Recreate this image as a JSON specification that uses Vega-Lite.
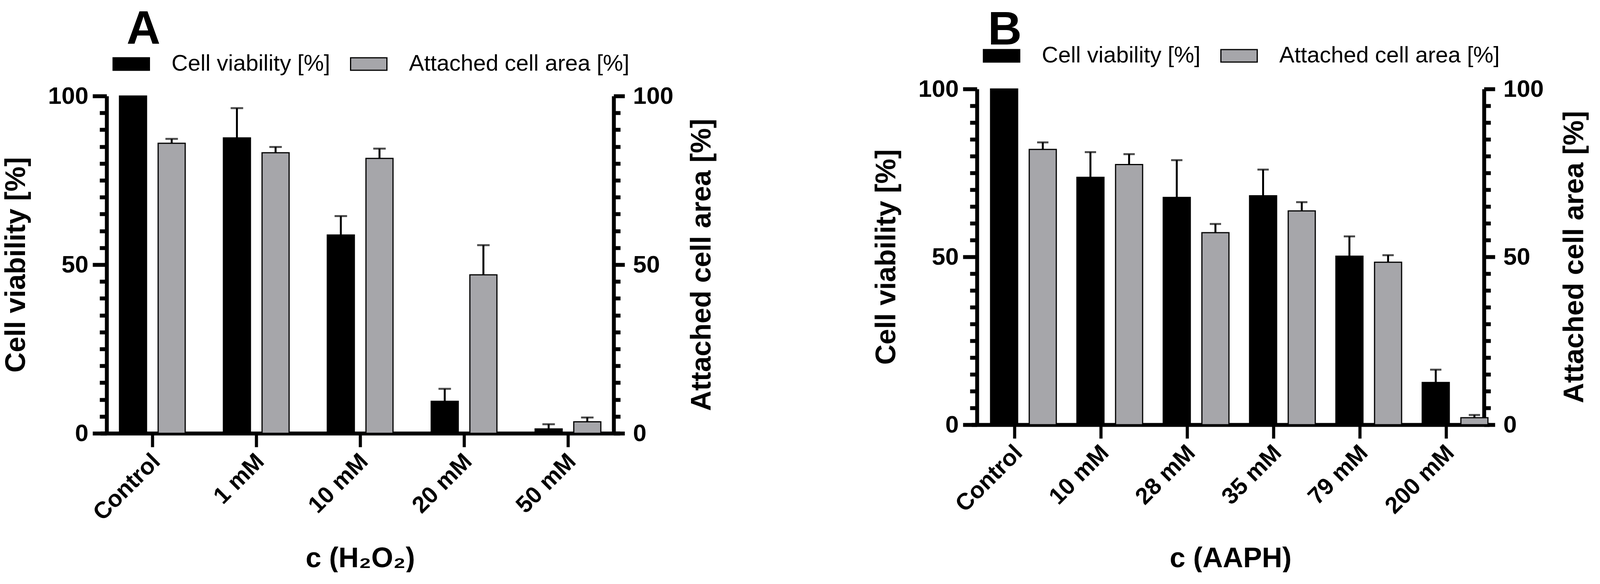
{
  "$schema": "https://vega.github.io/schema/vega-lite/v6.json",
  "background": "white",
  "padding": {"left": 5, "top": 16, "right": 0, "bottom": 0},
  "spacing": 400,
  "resolve": {"scale": {"color": "independent"}, "legend": {"color": "independent"}},
  "hconcat": [
    {
      "width": 1298,
      "height": 864,
      "title": {"text": "A", "anchor": "start", "frame": "group", "dx": 51, "offset": -21},
      "data": {
        "values": [
          {"conc": "Control", "series": "Cell viability [%]", "mean": 100, "upper": 100},
          {"conc": "Control", "series": "Attached cell area [%]", "mean": 86.0, "upper": 87.3},
          {"conc": "1 mM", "series": "Cell viability [%]", "mean": 87.6, "upper": 96.4},
          {"conc": "1 mM", "series": "Attached cell area [%]", "mean": 83.2, "upper": 84.9},
          {"conc": "10 mM", "series": "Cell viability [%]", "mean": 58.8, "upper": 64.4},
          {"conc": "10 mM", "series": "Attached cell area [%]", "mean": 81.5, "upper": 84.4},
          {"conc": "20 mM", "series": "Cell viability [%]", "mean": 9.5, "upper": 13.2},
          {"conc": "20 mM", "series": "Attached cell area [%]", "mean": 47.0, "upper": 55.8},
          {"conc": "50 mM", "series": "Cell viability [%]", "mean": 1.3, "upper": 2.7},
          {"conc": "50 mM", "series": "Attached cell area [%]", "mean": 3.4, "upper": 4.7}
        ]
      },
      "encoding": {
        "x": {
          "field": "conc", "type": "nominal", "sort": null,
          "scale": {"paddingInner": 0, "paddingOuter": 0, "range": [-16, 1314]},
          "axis": {"title": "c (H₂O₂)", "titlePadding": 85}
        },
        "xOffset": {
          "field": "series", "type": "nominal",
          "scale": {"domain": ["Cell viability [%]", "Attached cell area [%]"], "paddingInner": 0.3, "paddingOuter": 0.494}
        }
      },
      "layer": [
        {
          "transform": [{"filter": "datum.series == 'Cell viability [%]'"}],
          "encoding": {
            "y": {
              "field": "mean", "type": "quantitative",
              "scale": {"domain": [0, 100], "nice": false},
              "axis": {"orient": "left", "title": "Cell viability [%]"}
            }
          },
          "layer": [
            {
              "mark": {"type": "bar", "stroke": "black", "strokeWidth": 3},
              "encoding": {
                "color": {
                  "field": "series", "type": "nominal",
                  "scale": {"domain": ["Cell viability [%]", "Attached cell area [%]"], "range": ["#000000", "#a6a6aa"]},
                  "legend": {"legendX": 15, "legendY": -130}
                }
              }
            },
            {
              "transform": [{"filter": "datum.upper > datum.mean"}],
              "mark": {"type": "rule", "color": "black", "strokeWidth": 5},
              "encoding": {"y2": {"field": "upper"}}
            },
            {
              "transform": [{"filter": "datum.upper > datum.mean"}],
              "mark": {"type": "tick", "color": "black", "thickness": 5, "size": 32, "orient": "horizontal"},
              "encoding": {"y": {"field": "upper", "type": "quantitative"}}
            }
          ]
        },
        {
          "transform": [{"filter": "datum.series == 'Attached cell area [%]'"}],
          "encoding": {
            "y": {
              "field": "mean", "type": "quantitative",
              "scale": {"domain": [0, 100], "nice": false},
              "axis": {
                "orient": "right", "title": "Attached cell area [%]", "titleAngle": 270, "titleBaseline": "top",
                "titlePadding": 38, "labelPadding": 21,
                "tickSize": {"condition": {"test": "datum.value % 50 != 0", "value": 17}, "value": 28}
              }
            }
          },
          "layer": [
            {
              "mark": {"type": "bar", "stroke": "black", "strokeWidth": 3},
              "encoding": {
                "color": {
                  "field": "series", "type": "nominal",
                  "scale": {"domain": ["Cell viability [%]", "Attached cell area [%]"], "range": ["#000000", "#a6a6aa"]},
                  "legend": {"legendX": 15, "legendY": -130}
                }
              }
            },
            {
              "transform": [{"filter": "datum.upper > datum.mean"}],
              "mark": {"type": "rule", "color": "black", "strokeWidth": 5},
              "encoding": {"y2": {"field": "upper"}}
            },
            {
              "transform": [{"filter": "datum.upper > datum.mean"}],
              "mark": {"type": "tick", "color": "black", "thickness": 5, "size": 32, "orient": "horizontal"},
              "encoding": {"y": {"field": "upper", "type": "quantitative"}}
            }
          ]
        }
      ],
      "resolve": {"scale": {"y": "independent"}}
    },
    {
      "width": 1298,
      "height": 864,
      "title": {"text": "B", "anchor": "start", "frame": "group", "dx": 28, "offset": -44},
      "data": {
        "values": [
          {"conc": "Control", "series": "Cell viability [%]", "mean": 100, "upper": 100},
          {"conc": "Control", "series": "Attached cell area [%]", "mean": 82.0, "upper": 84.1},
          {"conc": "10 mM", "series": "Cell viability [%]", "mean": 73.7, "upper": 81.2},
          {"conc": "10 mM", "series": "Attached cell area [%]", "mean": 77.5, "upper": 80.6},
          {"conc": "28 mM", "series": "Cell viability [%]", "mean": 67.7, "upper": 78.8},
          {"conc": "28 mM", "series": "Attached cell area [%]", "mean": 57.2, "upper": 59.8},
          {"conc": "35 mM", "series": "Cell viability [%]", "mean": 68.2, "upper": 76.0},
          {"conc": "35 mM", "series": "Attached cell area [%]", "mean": 63.7, "upper": 66.3},
          {"conc": "79 mM", "series": "Cell viability [%]", "mean": 50.2, "upper": 56.1},
          {"conc": "79 mM", "series": "Attached cell area [%]", "mean": 48.4, "upper": 50.5},
          {"conc": "200 mM", "series": "Cell viability [%]", "mean": 12.6, "upper": 16.4},
          {"conc": "200 mM", "series": "Attached cell area [%]", "mean": 2.1, "upper": 2.9}
        ]
      },
      "encoding": {
        "x": {
          "field": "conc", "type": "nominal", "sort": null,
          "scale": {"paddingInner": 0, "paddingOuter": 0, "range": [-14, 1312]},
          "axis": {"title": "c (AAPH)", "offset": -22, "titlePadding": 107}
        },
        "xOffset": {
          "field": "series", "type": "nominal",
          "scale": {"domain": ["Cell viability [%]", "Attached cell area [%]"], "paddingInner": 0.3, "paddingOuter": 0.494}
        }
      },
      "layer": [
        {
          "transform": [{"filter": "datum.series == 'Cell viability [%]'"}],
          "encoding": {
            "y": {
              "field": "mean", "type": "quantitative",
              "scale": {"domain": [0, 100], "nice": false, "range": [842, -18]},
              "axis": {"orient": "left", "title": "Cell viability [%]"}
            }
          },
          "layer": [
            {
              "mark": {"type": "bar", "stroke": "black", "strokeWidth": 3},
              "encoding": {
                "color": {
                  "field": "series", "type": "nominal",
                  "scale": {"domain": ["Cell viability [%]", "Attached cell area [%]"], "range": ["#000000", "#a6a6aa"]},
                  "legend": {"legendX": 15, "legendY": -151}
                }
              }
            },
            {
              "transform": [{"filter": "datum.upper > datum.mean"}],
              "mark": {"type": "rule", "color": "black", "strokeWidth": 5},
              "encoding": {"y2": {"field": "upper"}}
            },
            {
              "transform": [{"filter": "datum.upper > datum.mean"}],
              "mark": {"type": "tick", "color": "black", "thickness": 5, "size": 29, "orient": "horizontal"},
              "encoding": {"y": {"field": "upper", "type": "quantitative"}}
            }
          ]
        },
        {
          "transform": [{"filter": "datum.series == 'Attached cell area [%]'"}],
          "encoding": {
            "y": {
              "field": "mean", "type": "quantitative",
              "scale": {"domain": [0, 100], "nice": false, "range": [842, -18]},
              "axis": {
                "orient": "right", "title": "Attached cell area [%]", "titleAngle": 270, "titleBaseline": "top",
                "titlePadding": 44, "labelPadding": 21,
                "tickSize": {"condition": {"test": "datum.value % 50 != 0", "value": 17}, "value": 28}
              }
            }
          },
          "layer": [
            {
              "mark": {"type": "bar", "stroke": "black", "strokeWidth": 3},
              "encoding": {
                "color": {
                  "field": "series", "type": "nominal",
                  "scale": {"domain": ["Cell viability [%]", "Attached cell area [%]"], "range": ["#000000", "#a6a6aa"]},
                  "legend": {"legendX": 15, "legendY": -151}
                }
              }
            },
            {
              "transform": [{"filter": "datum.upper > datum.mean"}],
              "mark": {"type": "rule", "color": "black", "strokeWidth": 5},
              "encoding": {"y2": {"field": "upper"}}
            },
            {
              "transform": [{"filter": "datum.upper > datum.mean"}],
              "mark": {"type": "tick", "color": "black", "thickness": 5, "size": 29, "orient": "horizontal"},
              "encoding": {"y": {"field": "upper", "type": "quantitative"}}
            }
          ]
        }
      ],
      "resolve": {"scale": {"y": "independent"}}
    }
  ],
  "config": {
    "font": "Liberation Sans",
    "view": {"stroke": null},
    "title": {"fontSize": 120, "fontWeight": "bold", "font": "Liberation Sans", "color": "black"},
    "axis": {
      "domainColor": "black", "domainWidth": 10, "tickColor": "black",
      "labelColor": "black", "titleColor": "black",
      "labelFont": "Liberation Sans", "labelFontWeight": "bold", "labelFontSize": 62,
      "titleFont": "Liberation Sans", "titleFontWeight": "bold", "titleFontSize": 72,
      "labelLimit": 1000, "grid": false
    },
    "axisY": {
      "values": [0, 25, 50, 75, 100],
      "labelExpr": "datum.value % 50 == 0 ? datum.label : ''",
      "tickWidth": 10,
      "tickSize": {"condition": {"test": "datum.value % 50 != 0", "value": 18}, "value": 36},
      "labelPadding": 11,
      "titlePadding": 44
    },
    "axisX": {
      "tickWidth": 8, "tickSize": 35,
      "labelAngle": -45, "labelAlign": "right", "labelBaseline": "top", "labelFontSize": 60,
      "labelOffset": -10, "labelPadding": 7
    },
    "legend": {
      "orient": "none", "direction": "horizontal", "title": null, "padding": 0,
      "symbolType": "M-1,-0.344L1,-0.344L1,0.344L-1,0.344Z",
      "symbolSize": 8649, "symbolStrokeColor": "black", "symbolStrokeWidth": 3,
      "labelFont": "Liberation Sans", "labelFontSize": 58, "labelColor": "black",
      "labelOffset": 55, "columnPadding": 45, "labelLimit": 1000
    }
  }
}
